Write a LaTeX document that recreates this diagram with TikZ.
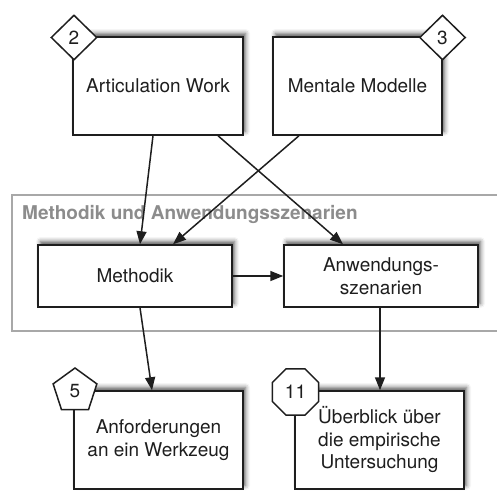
\documentclass[tikz,border=0pt]{standalone}
\usepackage{fontspec}
\setmainfont{TeX Gyre Heros}
\usetikzlibrary{arrows.meta,shapes.geometric,shadows.blur}

\definecolor{ink}{HTML}{1E1E1E}
\definecolor{grouptext}{HTML}{8C8C8C}
\definecolor{groupline}{HTML}{A8A8A8}

\tikzset{
  topic/.style={draw=ink, line width=1.5pt, fill=white, text=ink,
    align=center, inner sep=0pt,
    font=\fontsize{19}{22.5}\selectfont,
    blur shadow={shadow xshift=2.5pt, shadow yshift=3.5pt,
      shadow blur radius=4.5pt, shadow opacity=65}},
  badge/.style={draw=ink, line width=1.5pt, fill=white, text=ink,
    inner sep=0pt, font=\fontsize{19}{22}\selectfont},
  flow/.style={draw=ink, line width=1.5pt,
    -{Triangle[length=13pt,width=10pt]}},
  group/.style={draw=groupline, line width=1.5pt},
}

\begin{document}
\begin{tikzpicture}[x=1pt, y=-1pt]
  \useasboundingbox (0,0) rectangle (497,490);

  % chapter group frame and its title
  \draw[group] (12,195) rectangle (520,331);
  \node[anchor=west, text=grouptext, font=\fontsize{19}{22}\selectfont\bfseries,
        inner sep=0pt] (grouplabel) at (22,214) {Methodik und Anwendungsszenarien};

  % topic boxes
  \node[topic, minimum width=170pt, minimum height=98pt] (art) at (158,86) {Articulation Work};
  \node[topic, minimum width=169pt, minimum height=98pt] (men) at (357.5,86) {Mentale Modelle};
  \node[topic, minimum width=194pt, minimum height=62pt] (meth) at (135,276) {Methodik};
  \node[topic, minimum width=194pt, minimum height=62pt] (anw) at (381,276) {Anwendungs-\\szenarien};
  \node[topic, minimum width=169pt, minimum height=98pt] (anf) at (158.5,440) {Anforderungen\\an ein Werkzeug};
  \node[topic, minimum width=169pt, minimum height=98pt] (ueb) at (379.5,440) {Überblick über\\die empirische\\Untersuchung};

  % chapter number badges
  \node[badge, diamond, minimum width=46pt, minimum height=45pt] (b2) at (74,37.5) {2};
  \node[badge, diamond, minimum width=46pt, minimum height=45pt] (b3) at (442.5,37.5) {3};
  \node[badge, regular polygon, regular polygon sides=5, minimum size=46pt] (b5) at (75,391) {5};
  \node[badge, regular polygon, regular polygon sides=8, minimum size=50pt] (b11) at (295.5,392) {11};

  % dependencies
  \draw[flow] ([xshift=-5pt]art.south) -- ([xshift=5pt]meth.north);
  \draw[flow] ([xshift=60pt]art.south) -- ([xshift=-38pt]anw.north);
  \draw[flow] ([xshift=-58.5pt]men.south) -- ([xshift=38pt]meth.north);
  \draw[flow] (meth.east) -- (anw.west);
  \draw[flow] ([xshift=5pt]meth.south) -- ([xshift=-6.5pt]anf.north);
  \draw[flow] ([xshift=-1pt]anw.south) -- ([xshift=0.5pt]ueb.north);
\end{tikzpicture}
\end{document}
